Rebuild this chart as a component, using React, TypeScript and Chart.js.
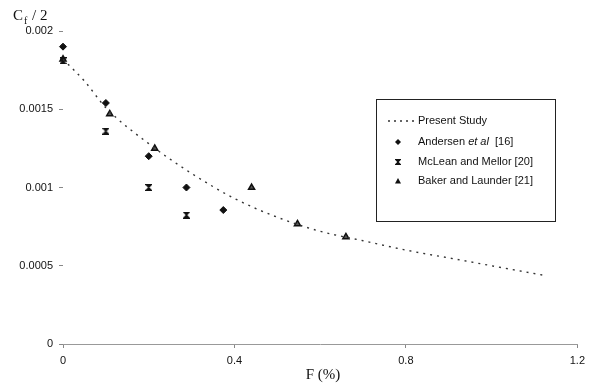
import React, { useEffect, useRef } from "react";
import { Chart, registerables } from "chart.js";
Chart.register(...registerables);

// Present Study curve (F %, Cf/2)
const studyF = [0, 0.05, 0.1, 0.2, 0.3, 0.4, 0.5, 0.6, 0.7, 0.8, 0.9, 1.0, 1.12];
const studyCf = [0.00182, 0.00168, 0.00151, 0.00128, 0.00109, 0.00093, 0.00081, 0.00072, 0.00066, 0.0006, 0.00055, 0.0005, 0.00044];
// Andersen et al [16]
const andersenF = [0, 0.1, 0.2, 0.288, 0.374];
const andersenCf = [0.0019, 0.00154, 0.0012, 0.001, 0.000856];
// McLean and Mellor [20]
const mcleanF = [0, 0.1, 0.2, 0.288];
const mcleanCf = [0.00181, 0.00136, 0.001, 0.000824];
// Baker and Launder [21]
const bakerF = [0, 0.109, 0.214, 0.44, 0.547, 0.66];
const bakerCf = [0.00182, 0.00147, 0.00125, 0.001, 0.000767, 0.000684];

const xTicks = [0, 0.4, 0.8, 1.2];
const xTickLabels = ["0", "0.4", "0.8", "1.2"];
const yTicks = [0, 0.0005, 0.001, 0.0015, 0.002];
const yTickLabels = ["0", "0.0005", "0.001", "0.0015", "0.002"];
const seriesLabels = ["Present Study", "Andersen et al [16]", "McLean and Mellor [20]", "Baker and Launder [21]"];
const xTitle = "F (%)";
const yTitleMain = "C";
const yTitleSub = "f";
const yTitleRest = " / 2";

const SANS = '"Liberation Sans", Arial, sans-serif';
const SERIF = '"Liberation Serif", "Times New Roman", serif';

function pts(xs: number[], ys: number[]) {
  return xs.map((x, i) => ({ x, y: ys[i] }));
}

function makeHourglass(size: number) {
  const c = document.createElement("canvas");
  c.width = size;
  c.height = size;
  const g = c.getContext("2d")!;
  g.fillStyle = "#111";
  g.beginPath();
  g.moveTo(0, 0);
  g.lineTo(size, 0);
  g.lineTo(size / 2, size / 2);
  g.closePath();
  g.fill();
  g.beginPath();
  g.moveTo(0, size);
  g.lineTo(size, size);
  g.lineTo(size / 2, size / 2);
  g.closePath();
  g.fill();
  g.strokeStyle = "#111";
  g.lineWidth = 1.2;
  g.beginPath();
  g.moveTo(0, 0);
  g.lineTo(size, size);
  g.moveTo(size, 0);
  g.lineTo(0, size);
  g.stroke();
  return c;
}

export default function App() {
  const ref = useRef<HTMLCanvasElement | null>(null);

  useEffect(() => {
    const canvas = ref.current!;
    const hourglass = makeHourglass(7);
    const hourglassSmall = makeHourglass(6);

    const overlay = {
      id: "overlay",
      afterDraw(chart: any) {
        const ctx = chart.ctx as CanvasRenderingContext2D;
        ctx.save();
        // y axis title
        ctx.fillStyle = "#111";
        ctx.textBaseline = "alphabetic";
        ctx.textAlign = "left";
        ctx.font = `15px ${SERIF}`;
        ctx.fillText(yTitleMain, 13, 20);
        const cw = ctx.measureText(yTitleMain).width;
        ctx.font = `10px ${SERIF}`;
        ctx.fillText(yTitleSub, 13 + cw + 1, 24);
        const fw = ctx.measureText(yTitleSub).width;
        ctx.font = `15px ${SERIF}`;
        ctx.fillText(yTitleRest, 13 + cw + fw + 2, 20);
        // x axis title
        const ca = chart.chartArea;
        ctx.textAlign = "center";
        ctx.fillText(xTitle, 323, 379);

        // legend box
        const bx = 376.5, by = 99.5, bw = 179, bh = 122;
        ctx.strokeStyle = "#222";
        ctx.lineWidth = 1;
        ctx.fillStyle = "#fff";
        ctx.fillRect(bx, by, bw, bh);
        ctx.strokeRect(bx, by, bw, bh);

        const rows = [121, 142, 162, 181];
        const mx = 398;
        const tx = 418;
        ctx.font = `11px ${SANS}`;
        ctx.textAlign = "left";
        ctx.textBaseline = "middle";
        ctx.fillStyle = "#111";
        // row 0: dotted line
        ctx.save();
        ctx.strokeStyle = "#333";
        ctx.lineWidth = 1.3;
        ctx.setLineDash([2, 4]);
        ctx.beginPath();
        ctx.moveTo(388, rows[0]);
        ctx.lineTo(414, rows[0]);
        ctx.stroke();
        ctx.restore();
        ctx.fillText(seriesLabels[0], tx, rows[0]);
        // row 1: diamond
        ctx.beginPath();
        ctx.moveTo(mx, rows[1] - 3);
        ctx.lineTo(mx + 3, rows[1]);
        ctx.lineTo(mx, rows[1] + 3);
        ctx.lineTo(mx - 3, rows[1]);
        ctx.closePath();
        ctx.fill();
        const parts = seriesLabels[1].split(" ");
        // "Andersen", "et", "al", "[16]"
        let x = tx;
        ctx.font = `11px ${SANS}`;
        ctx.fillText(parts[0] + " ", x, rows[1]);
        x += ctx.measureText(parts[0] + " ").width;
        ctx.font = `italic 11px ${SANS}`;
        ctx.fillText(parts[1] + " " + parts[2], x, rows[1]);
        x += ctx.measureText(parts[1] + " " + parts[2]).width;
        ctx.font = `11px ${SANS}`;
        ctx.fillText("  " + parts.slice(3).join(" "), x, rows[1]);
        // row 2: hourglass
        ctx.drawImage(hourglassSmall, mx - 3, rows[2] - 3);
        ctx.fillText(seriesLabels[2], tx, rows[2]);
        // row 3: triangle
        ctx.beginPath();
        ctx.moveTo(mx, rows[3] - 3);
        ctx.lineTo(mx + 3, rows[3] + 2.5);
        ctx.lineTo(mx - 3, rows[3] + 2.5);
        ctx.closePath();
        ctx.fill();
        ctx.fillText(seriesLabels[3], tx, rows[3]);
        ctx.restore();
      },
    };

    const tickFont = { family: SANS, size: 11 };

    const chart = new Chart(canvas, {
      type: "scatter",
      data: {
        datasets: [
          {
            label: seriesLabels[0],
            data: pts(studyF, studyCf),
            showLine: true,
            borderColor: "#333",
            borderWidth: 1.4,
            borderDash: [2, 5],
            pointRadius: 0,
            cubicInterpolationMode: "monotone",
            clip: false,
          } as any,
          {
            label: seriesLabels[1],
            data: pts(andersenF, andersenCf),
            pointStyle: "rectRot",
            pointRadius: 3.5,
            backgroundColor: "#111",
            borderColor: "#111",
            borderWidth: 1,
            clip: false,
          } as any,
          {
            label: seriesLabels[2],
            data: pts(mcleanF, mcleanCf),
            pointStyle: hourglass,
            pointRadius: 3.5,
            clip: false,
          } as any,
          {
            label: seriesLabels[3],
            data: pts(bakerF, bakerCf),
            pointStyle: "triangle",
            pointRadius: 3.5,
            backgroundColor: "#555",
            borderColor: "#111",
            borderWidth: 1.5,
            clip: false,
          } as any,
        ],
      },
      options: {
        responsive: false,
        animation: false,
        layout: { padding: { top: 31, right: 12, left: 0, bottom: 0 } },
        plugins: { legend: { display: false }, tooltip: { enabled: false } },
        scales: {
          x: {
            type: "linear",
            min: 0,
            max: 1.2,
            afterBuildTicks: (s: any) => {
              s.ticks = xTicks.map((v) => ({ value: v }));
            },
            afterFit: (s: any) => {
              s.height = 41;
            },
            ticks: {
              callback: (_v: any, i: number) => xTickLabels[i],
              font: tickFont,
              color: "#111",
              padding: 6,
              maxRotation: 0,
            },
            grid: { display: true, drawOnChartArea: false, drawTicks: true, tickLength: 4, color: "#888" },
            border: { display: true, color: "#999", dash: [10, 3] },
          },
          y: {
            type: "linear",
            min: 0,
            max: 0.002,
            afterBuildTicks: (s: any) => {
              s.ticks = yTicks.map((v) => ({ value: v }));
            },
            afterFit: (s: any) => {
              s.width = 63;
            },
            ticks: {
              callback: (_v: any, i: number) => yTickLabels[i],
              font: tickFont,
              color: "#111",
              padding: 6,
            },
            grid: { display: true, drawOnChartArea: false, drawTicks: true, tickLength: 4, color: "#888" },
            border: { display: false },
          },
        },
      },
      plugins: [overlay],
    });
    return () => chart.destroy();
  }, []);

  return (
    <div style={{ position: "fixed", left: 0, top: 0, width: 591, height: 385, background: "#fff" }}>
      <canvas ref={ref} width={591} height={385} style={{ display: "block" }} />
    </div>
  );
}
